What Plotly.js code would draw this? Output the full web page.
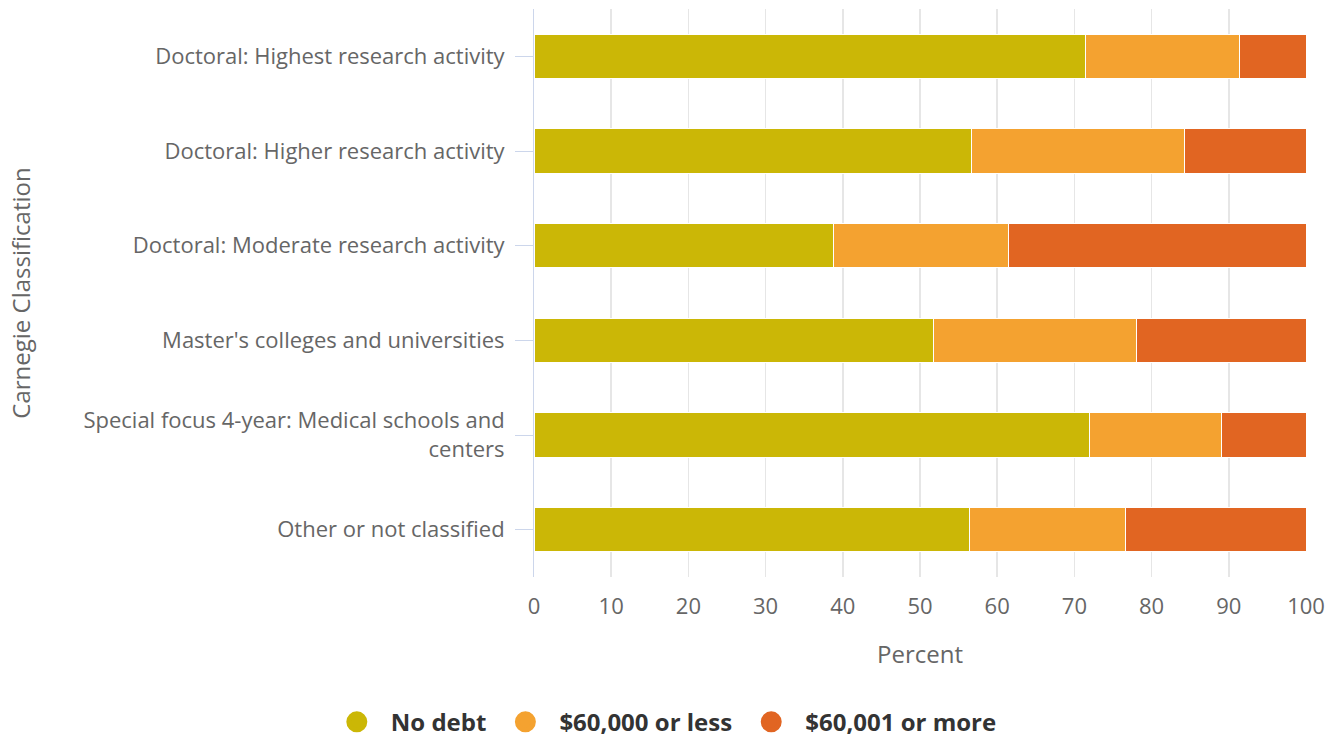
<!DOCTYPE html>
<html>
<head>
<meta charset="utf-8">
<script src="https://cdn.plot.ly/plotly-3.0.1.min.js"></script>
<style>html,body{margin:0;padding:0;background:#fff;}#chart{width:1338px;height:740px;}</style>
</head>
<body>
<div id="chart"></div>
<script>
const categories = [
  "Doctoral: Highest research activity",
  "Doctoral: Higher research activity",
  "Doctoral: Moderate research activity",
  "Master's colleges and universities",
  "Special focus 4-year: Medical schools and<br>centers",
  "Other or not classified"
];
const noDebt = [71.4, 56.7, 38.8, 51.8, 72.0, 56.4];
const upTo60k = [20.0, 27.5, 22.6, 26.2, 17.1, 20.2];
const over60k = [8.6, 15.8, 38.6, 22.0, 10.9, 23.4];
const seriesNames = ["No debt", "$60,000 or less", "$60,001 or more"];
const colors = ["#cbb706", "#f4a230", "#e16522"];
const xTicks = [0, 10, 20, 30, 40, 50, 60, 70, 80, 90, 100];

const seriesValues = [noDebt, upTo60k, over60k];
const traces = [];
seriesValues.forEach((vals, i) => {
  traces.push({
    type: 'bar', orientation: 'h', y: categories, x: vals, name: seriesNames[i],
    marker: {color: colors[i], line: {color: '#ffffff', width: 1}},
    width: 0.47, showlegend: false, hoverinfo: 'x+name'
  });
});
seriesNames.forEach((n, i) => {
  traces.push({
    type: 'scatter', mode: 'markers', x: [null], y: [null], name: n,
    marker: {color: colors[i], size: 16, symbol: 'circle', line: {color: colors[i], width: 5}},
    showlegend: true
  });
});

const layout = {
  width: 1338, height: 740,
  margin: {l: 534, r: 32, t: 9, b: 163},
  paper_bgcolor: '#ffffff', plot_bgcolor: '#ffffff',
  barmode: 'stack', bargap: 0.5,
  font: {family: 'Open Sans, sans-serif', color: '#666666', size: 22},
  xaxis: {
    range: [0, 100], tickvals: xTicks, ticktext: xTicks.map(String),
    showgrid: true, gridcolor: '#e6e6e6', gridwidth: 1.5,
    zeroline: false, showline: false, ticks: '',
    ticklabelstandoff: 14,
    tickfont: {size: 22, color: '#666666'},
    title: {text: 'Percent', font: {size: 24, color: '#666666'}, standoff: 27},
    fixedrange: true
  },
  yaxis: {
    type: 'category', categoryorder: 'array', categoryarray: categories,
    autorange: 'reversed', range: [5.5, -0.5],
    showline: true, linecolor: '#ccd6eb', linewidth: 1,
    ticks: 'outside', ticklen: 18, tickcolor: '#ccd6eb', tickwidth: 1,
    ticklabelstandoff: 6,
    showgrid: false, zeroline: false,
    tickfont: {size: 22, color: '#666666'},
    title: {text: 'Carnegie Classification', font: {size: 24, color: '#666666'}, standoff: 46},
    fixedrange: true
  },
  legend: {
    orientation: 'h', xref: 'container', x: 0.495, xanchor: 'center',
    yref: 'container', y: 0.024, yanchor: 'middle',
    traceorder: 'normal',
    font: {size: 24, color: '#333333', family: 'Open Sans, sans-serif', weight: 'bold'},
    itemsizing: 'trace', itemwidth: 58, tracegroupgap: 0
  },
  showlegend: true
};

Plotly.newPlot('chart', traces, layout, {displayModeBar: false, staticPlot: true});
</script>
</body>
</html>
